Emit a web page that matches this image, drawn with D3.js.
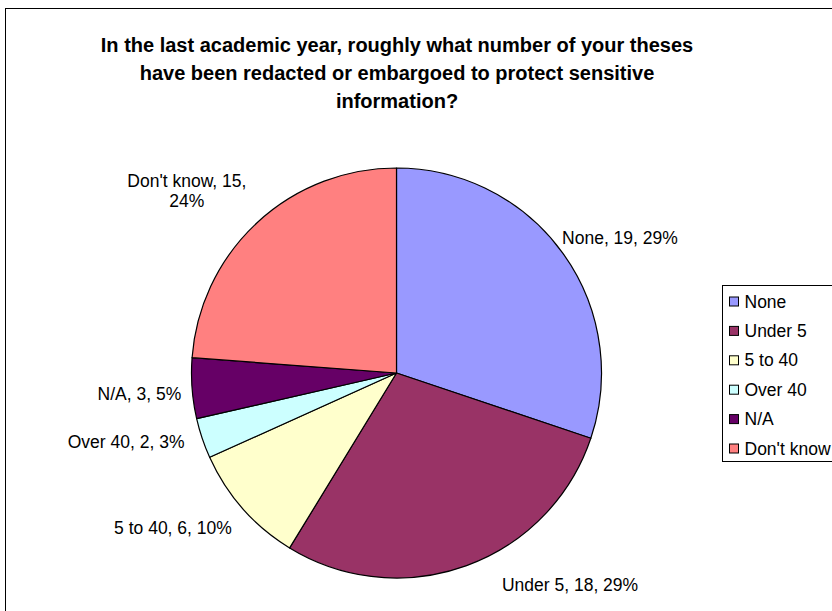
<!DOCTYPE html>
<html>
<head>
<meta charset="utf-8">
<script src="https://cdn.jsdelivr.net/npm/d3@7"></script>
<style>
  html, body { margin: 0; padding: 0; background: #fff; }
  svg { display: block; }
</style>
</head>
<body>
<div id="chart"></div>
<script>
// data
const categories = ["None", "Under 5", "5 to 40", "Over 40", "N/A", "Don't know"];
const counts = [19, 18, 6, 2, 3, 15];
const percentLabels = ["29%", "29%", "10%", "3%", "5%", "24%"];
const colors = ["#9999FF", "#993366", "#FFFFCC", "#CCFFFF", "#660066", "#FF8080"];
const titleLines = [
    "In the last academic year, roughly what number of your theses",
    "have been redacted or embargoed to protect sensitive",
    "information?"
];

const width = 832;
const height = 611;
const cx = 396.5;
const cy = 373;
const radius = 205;

// label placement: distance from centre and angle shift (degrees) from slice mid-angle
const labelDist = [261, 274, 272, 279, 258, 278];
const labelShift = [4.6, -19.3, 6.7, 4.3, -0.4, -6.1];

const font = "'Liberation Sans', Arial, sans-serif";

const svg = d3.select("#chart")
    .append("svg")
    .attr("width", width)
    .attr("height", height)
    .attr("viewBox", [0, 0, width, height]);

// chart border (runs off the right and bottom edges)
svg.append("rect")
    .attr("x", 5.5).attr("y", 8.5)
    .attr("width", width + 10).attr("height", height + 10)
    .attr("fill", "none")
    .attr("stroke", "#000")
    .attr("stroke-width", 1);

// title
svg.append("g")
    .attr("font-family", font)
    .attr("font-weight", "bold")
    .attr("font-size", 20)
    .attr("text-anchor", "middle")
    .selectAll("text")
    .data(titleLines)
    .join("text")
    .attr("x", 397)
    .attr("y", (d, i) => 52 + i * 28)
    .text(d => d);

const pie = d3.pie().sort(null).value(d => d);
const arcs = pie(counts);
const arc = d3.arc().innerRadius(0).outerRadius(radius);

const g = svg.append("g").attr("transform", `translate(${cx},${cy})`);

g.selectAll("path")
    .data(arcs)
    .join("path")
    .attr("d", arc)
    .attr("fill", (d, i) => colors[i])
    .attr("stroke", "#000")
    .attr("stroke-width", 1.2)
    .attr("stroke-linejoin", "round");

// data labels
const labels = g.append("g")
    .attr("font-family", font)
    .attr("font-size", 17.5)
    .attr("text-anchor", "middle")
    .attr("fill", "#000");

arcs.forEach((d, i) => {
    const a = (d.startAngle + d.endAngle) / 2 + labelShift[i] * Math.PI / 180;
    const x = labelDist[i] * Math.sin(a);
    const y = -labelDist[i] * Math.cos(a);
    const full = `${categories[i]}, ${counts[i]}, ${percentLabels[i]}`;
    const lines = categories[i] === "Don't know"
        ? [`${categories[i]}, ${counts[i]},`, percentLabels[i]]
        : [full];
    const t = labels.append("text")
        .attr("x", x)
        .attr("y", y - (lines.length - 1) * 10);
    lines.forEach((l, j) => {
        t.append("tspan")
            .attr("x", x)
            .attr("dy", j === 0 ? "0.35em" : 20)
            .text(l);
    });
});

// legend
const legend = svg.append("g")
    .attr("font-family", font)
    .attr("font-size", 17.5);

legend.append("rect")
    .attr("x", 722.5).attr("y", 285.5)
    .attr("width", 130).attr("height", 176)
    .attr("fill", "#fff")
    .attr("stroke", "#000")
    .attr("stroke-width", 1);

const item = legend.selectAll("g.item")
    .data(categories)
    .join("g")
    .attr("class", "item")
    .attr("transform", (d, i) => `translate(729.5,${301.5 + i * 29.4})`);

item.append("rect")
    .attr("x", 0).attr("y", -4.5)
    .attr("width", 9).attr("height", 9)
    .attr("fill", (d, i) => colors[i])
    .attr("stroke", "#000")
    .attr("stroke-width", 1);

item.append("text")
    .attr("x", 15)
    .attr("dy", "0.35em")
    .text(d => d);
</script>
</body>
</html>
